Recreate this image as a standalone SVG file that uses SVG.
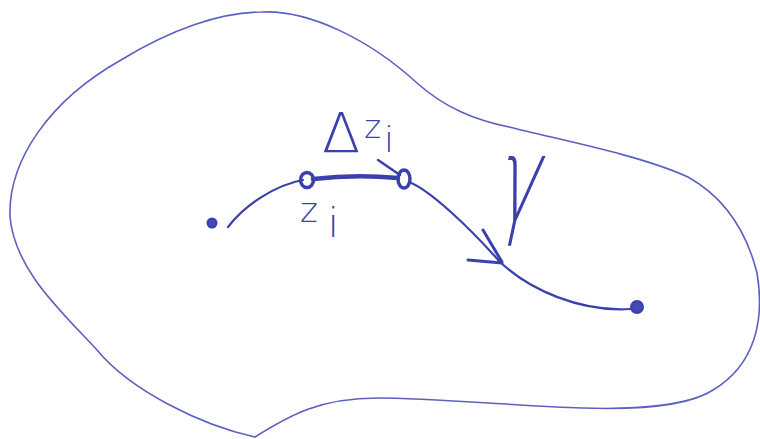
<svg xmlns="http://www.w3.org/2000/svg" width="760" height="439" viewBox="0 0 760 439">
<style>
.ink{fill:none;stroke:#3c40ad;stroke-linecap:round;stroke-linejoin:round}
.blob{fill:none;stroke:#5c60c2;stroke-width:1.6}
.dot{fill:#4448b4;stroke:#3c40ad;stroke-width:2}
.ring{fill:none;stroke:#3c40ad;stroke-width:3.5}
.lbl{font-family:"DejaVu Sans","Liberation Sans",sans-serif;font-weight:200;fill:#3c40ad}
</style>
<rect width="760" height="439" fill="#ffffff"/>
<g id="region">
<path class="blob" d="M262,12 C310,10 370,40 417,83 C445,108 475,120 509,127 C560,140 640,155 688,177 C720,195 745,225 757,273 C765,320 755,365 713,390 C690,405 640,410 582,408 C520,406 430,398 378,398 C320,398 290,415 255,437 C200,425 130,390 97,350 C60,310 15,270 10,217 C8,160 50,100 121,60 C170,30 220,12 262,12 Z"/>
</g>
<g id="connectors">
<path class="ink" stroke-width="2.2" d="M228,227 C245,205 275,185 303,180"/>
<path class="ink" stroke-width="4.5" d="M313,179 Q355,174 398,178"/>
<path class="ink" stroke-width="2.2" d="M409,182 C430,190 470,228 500,262 C530,290 580,312 630,309"/>
<path class="ink" stroke-width="2.5" d="M378,160 L400,175"/>
<path class="ink" stroke-width="3" d="M468,260 L502,263 M483,230 L502,262"/>
</g>
<g id="start"><circle class="dot" cx="212" cy="223" r="4.5"/></g>
<g id="zi"><ellipse class="ring" cx="307" cy="180" rx="6.5" ry="7.5"/></g>
<g id="zi1"><ellipse class="ring" cx="404" cy="179" rx="6" ry="9"/></g>
<g id="end"><circle class="dot" cx="637" cy="307" r="6"/></g>
<g id="labels">
<text class="lbl" x="322" y="152" font-size="56">Δ<tspan font-size="32" dx="4" y="138">z</tspan><tspan font-size="36" dx="3" y="152">i</tspan></text>
<text class="lbl" x="300" y="222" font-size="34">z<tspan font-size="40" dx="10" y="237">i</tspan></text>
<text class="lbl" transform="translate(494,221) skewX(-12) scale(1,1.7)" font-size="70">γ</text>
</g>
</svg>
